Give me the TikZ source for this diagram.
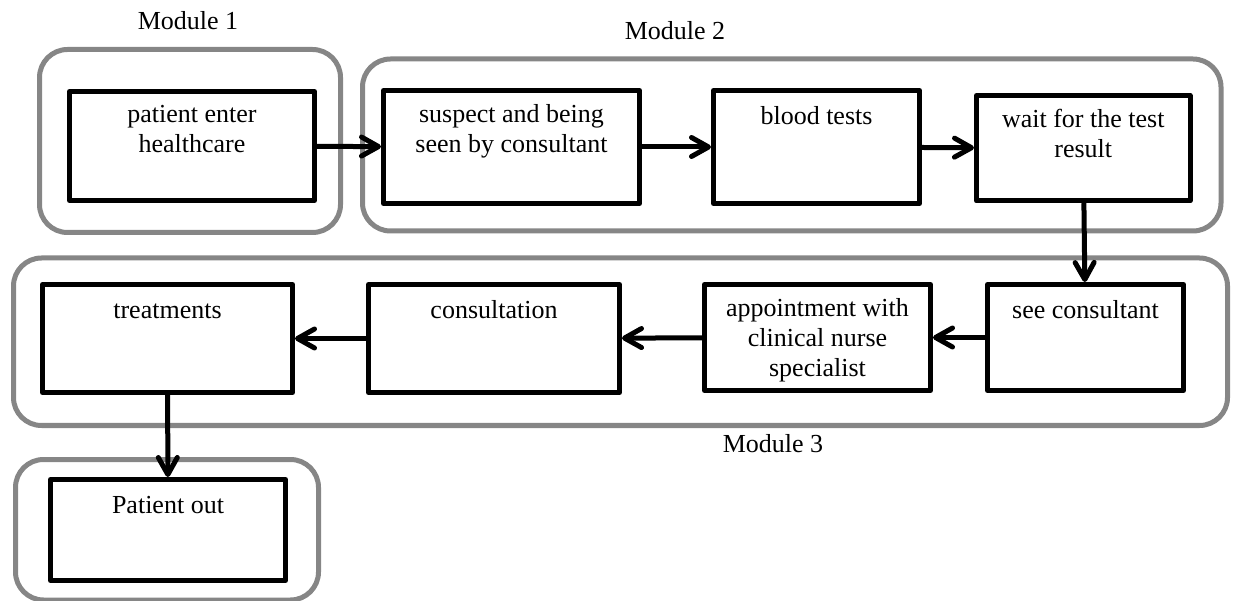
\documentclass[tikz,border=0pt]{standalone}
\usepackage{fontspec}
\setmainfont{Liberation Serif}
\usetikzlibrary{arrows.meta,positioning}
\definecolor{ink}{HTML}{000000}
\definecolor{frame}{HTML}{868686}
\tikzset{
  >={Straight Barb[length=17pt,width=19pt,round]},
  every picture/.style={line cap=round, line join=round},
  module/.style={draw=frame, line width=5pt, rounded corners=28pt},
  modlbl/.style={font=\fontsize{26}{30}\selectfont, text=ink, anchor=base, inner sep=0pt},
  stagetxt/.style={font=\fontsize{26}{30}\selectfont, text=ink, align=center, inner sep=0pt,
    anchor=north, yshift=-16pt,
    execute at begin node={\vrule width 0pt height 20pt depth 0pt\relax}},
  stage/.style n args={3}{draw=ink, line width=5pt, inner sep=0pt,
    minimum width=#1, minimum height=#2, label={[stagetxt]90:{#3}}},
  flow/.style={->, draw=ink, line width=5pt},
}
\begin{document}
\begin{tikzpicture}[x=1pt, y=-1pt]
  \useasboundingbox (0,0) rectangle (1237,601);
  % ---------------- module frames ----------------
  \draw[module] (39.5,49.5) rectangle (340.5,232.5);
  \draw[module] (362.5,59) rectangle (1221,231);
  \draw[module] (13.5,258) rectangle (1227.5,425.5);
  \draw[module] (15.5,459.5) rectangle (318.5,600);
  \node[modlbl] (m1) at (188,30) {Module 1};
  \node[modlbl] (m2) at (675,40) {Module 2};
  \node[modlbl] (m3) at (773,452) {Module 3};

  % ---------------- stages ----------------
  \node[stage={245pt}{109pt}{patient enter\\healthcare}] (pe) at (192,146) {};
  \node[stage={256pt}{113pt}{suspect and being\\seen by consultant}] (sus) at (511.5,147) {};
  \node[stage={206pt}{113pt}{blood tests}] (bt) at (816.5,147) {};
  \node[stage={213.5pt}{105.5pt}{wait for the test\\result}] (wt) at (1083.25,148.25) {};
  \node[stage={196pt}{106pt}{see consultant}] (sc) at (1085.5,337.5) {};
  \node[stage={226pt}{106pt}{appointment with\\clinical nurse\\specialist}] (ap) at (817.5,337.5) {};
  \node[stage={251pt}{108pt}{consultation}] (co) at (494,338.5) {};
  \node[stage={250pt}{108pt}{treatments}] (tr) at (167.5,338.5) {};
  \node[stage={235pt}{101pt}{Patient out}] (po) at (168,530) {};

  % ---------------- flow ----------------
  \draw[flow] (pe) -- (sus);
  \draw[flow] (sus) -- (bt);
  \draw[flow] (bt) -- (wt);
  \draw[flow] (wt) -- (sc);
  \draw[flow] (sc) -- (ap);
  \draw[flow] (ap) -- (co);
  \draw[flow] (co) -- (tr);
  \draw[flow] (tr) -- (po);
\end{tikzpicture}
\end{document}
